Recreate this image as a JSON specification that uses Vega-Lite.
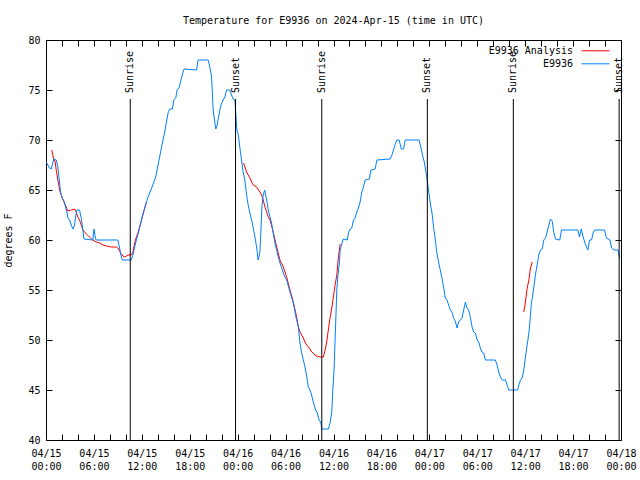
{
"$schema": "https://vega.github.io/schema/vega-lite/v6.json",
"width": 575, "height": 400,
"autosize": {"type": "none"},
"padding": {"left": 46, "top": 40, "right": 19, "bottom": 40},
"background": "white",
"title": {"text": "Temperature for E9936 on 2024-Apr-15 (time in UTC)", "offset": 9, "fontSize": 10, "font": "DejaVu Sans Mono", "fontWeight": "normal", "color": "black", "anchor": "middle"},
"config": {"view": {"stroke": "black", "strokeWidth": 1}, "font": "DejaVu Sans Mono",
  "axis": {"labelFont": "DejaVu Sans Mono", "labelFontSize": 10, "labelColor": "black", "tickColor": "black", "titleFont": "DejaVu Sans Mono", "titleFontSize": 10, "titleFontWeight": "normal", "titleColor": "black", "grid": false, "domain": false}},
"datasets": {
"obs": [
{"t":"2024-04-15T00:02:00Z","v":67.8},{"t":"2024-04-15T00:26:00Z","v":67.2},{"t":"2024-04-15T00:39:00Z","v":67.1},{"t":"2024-04-15T00:51:00Z","v":67.7},{"t":"2024-04-15T00:59:00Z","v":68.1},{"t":"2024-04-15T01:17:00Z","v":68.0},{"t":"2024-04-15T01:29:00Z","v":67.3},{"t":"2024-04-15T01:42:00Z","v":65.7},{"t":"2024-04-15T01:49:00Z","v":64.8},{"t":"2024-04-15T02:02:00Z","v":64.2},{"t":"2024-04-15T02:12:00Z","v":64.0},{"t":"2024-04-15T02:27:00Z","v":63.3},{"t":"2024-04-15T02:37:00Z","v":62.8},{"t":"2024-04-15T02:44:00Z","v":62.2},{"t":"2024-04-15T02:57:00Z","v":62.0},{"t":"2024-04-15T03:10:00Z","v":61.5},{"t":"2024-04-15T03:22:00Z","v":61.1},{"t":"2024-04-15T03:35:00Z","v":61.5},{"t":"2024-04-15T03:42:00Z","v":62.3},{"t":"2024-04-15T03:52:00Z","v":63.0},{"t":"2024-04-15T04:12:00Z","v":63.0},{"t":"2024-04-15T04:25:00Z","v":62.2},{"t":"2024-04-15T04:37:00Z","v":61.0},{"t":"2024-04-15T04:45:00Z","v":60.1},{"t":"2024-04-15T05:52:00Z","v":60.0},{"t":"2024-04-15T06:00:00Z","v":61.1},{"t":"2024-04-15T06:10:00Z","v":60.3},{"t":"2024-04-15T06:16:00Z","v":60.0},{"t":"2024-04-15T09:00:00Z","v":60.0},{"t":"2024-04-15T09:13:00Z","v":59.2},{"t":"2024-04-15T09:26:00Z","v":58.3},{"t":"2024-04-15T09:34:00Z","v":58.0},{"t":"2024-04-15T10:41:00Z","v":58.0},{"t":"2024-04-15T10:53:00Z","v":58.5},{"t":"2024-04-15T11:06:00Z","v":59.3},{"t":"2024-04-15T11:19:00Z","v":60.0},{"t":"2024-04-15T11:36:00Z","v":60.8},{"t":"2024-04-15T12:06:00Z","v":62.5},{"t":"2024-04-15T12:44:00Z","v":64.2},{"t":"2024-04-15T13:14:00Z","v":65.2},{"t":"2024-04-15T13:44:00Z","v":66.3},{"t":"2024-04-15T14:27:00Z","v":69.2},{"t":"2024-04-15T14:39:00Z","v":70.0},{"t":"2024-04-15T14:52:00Z","v":70.8},{"t":"2024-04-15T15:05:00Z","v":71.8},{"t":"2024-04-15T15:17:00Z","v":72.7},{"t":"2024-04-15T15:30:00Z","v":73.1},{"t":"2024-04-15T15:50:00Z","v":73.1},{"t":"2024-04-15T16:00:00Z","v":74.0},{"t":"2024-04-15T16:15:00Z","v":74.2},{"t":"2024-04-15T16:25:00Z","v":75.0},{"t":"2024-04-15T16:40:00Z","v":75.2},{"t":"2024-04-15T16:50:00Z","v":75.8},{"t":"2024-04-15T17:00:00Z","v":76.3},{"t":"2024-04-15T17:10:00Z","v":76.8},{"t":"2024-04-15T17:17:00Z","v":77.1},{"t":"2024-04-15T18:51:00Z","v":77.0},{"t":"2024-04-15T19:03:00Z","v":78.0},{"t":"2024-04-15T20:18:00Z","v":78.0},{"t":"2024-04-15T20:31:00Z","v":77.3},{"t":"2024-04-15T20:44:00Z","v":76.3},{"t":"2024-04-15T20:56:00Z","v":73.0},{"t":"2024-04-15T21:08:00Z","v":71.8},{"t":"2024-04-15T21:16:00Z","v":71.1},{"t":"2024-04-15T21:26:00Z","v":71.5},{"t":"2024-04-15T21:39:00Z","v":72.5},{"t":"2024-04-15T21:54:00Z","v":73.5},{"t":"2024-04-15T22:11:00Z","v":74.0},{"t":"2024-04-15T22:24:00Z","v":74.3},{"t":"2024-04-15T22:37:00Z","v":75.0},{"t":"2024-04-15T23:01:00Z","v":75.0},{"t":"2024-04-15T23:14:00Z","v":74.5},{"t":"2024-04-15T23:26:00Z","v":74.1},{"t":"2024-04-15T23:39:00Z","v":74.0},{"t":"2024-04-15T23:44:00Z","v":73.0},{"t":"2024-04-15T23:54:00Z","v":71.0},
{"t":"2024-04-16T00:05:00Z","v":70.5},{"t":"2024-04-16T00:16:00Z","v":69.3},{"t":"2024-04-16T00:29:00Z","v":68.0},{"t":"2024-04-16T00:41:00Z","v":66.8},{"t":"2024-04-16T00:54:00Z","v":66.0},{"t":"2024-04-16T01:07:00Z","v":64.5},{"t":"2024-04-16T01:19:00Z","v":63.5},{"t":"2024-04-16T01:32:00Z","v":62.7},{"t":"2024-04-16T01:45:00Z","v":62.0},{"t":"2024-04-16T01:57:00Z","v":61.2},{"t":"2024-04-16T02:10:00Z","v":60.3},{"t":"2024-04-16T02:22:00Z","v":59.3},{"t":"2024-04-16T02:34:00Z","v":58.0},{"t":"2024-04-16T02:47:00Z","v":58.8},{"t":"2024-04-16T02:55:00Z","v":61.0},{"t":"2024-04-16T03:02:00Z","v":63.3},{"t":"2024-04-16T03:12:00Z","v":64.5},{"t":"2024-04-16T03:23:00Z","v":65.0},{"t":"2024-04-16T03:38:00Z","v":64.0},{"t":"2024-04-16T03:50:00Z","v":63.0},{"t":"2024-04-16T04:03:00Z","v":62.3},{"t":"2024-04-16T04:15:00Z","v":61.7},{"t":"2024-04-16T04:27:00Z","v":60.7},{"t":"2024-04-16T04:40:00Z","v":59.7},{"t":"2024-04-16T04:53:00Z","v":59.0},{"t":"2024-04-16T05:05:00Z","v":58.3},{"t":"2024-04-16T05:18:00Z","v":57.7},{"t":"2024-04-16T05:31:00Z","v":57.2},{"t":"2024-04-16T05:43:00Z","v":56.7},{"t":"2024-04-16T05:55:00Z","v":56.3},{"t":"2024-04-16T06:08:00Z","v":56.0},{"t":"2024-04-16T06:33:00Z","v":54.8},{"t":"2024-04-16T06:58:00Z","v":53.7},{"t":"2024-04-16T07:18:00Z","v":52.3},{"t":"2024-04-16T07:36:00Z","v":51.3},{"t":"2024-04-16T07:48:00Z","v":49.7},{"t":"2024-04-16T08:01:00Z","v":48.7},{"t":"2024-04-16T08:13:00Z","v":48.0},{"t":"2024-04-16T08:26:00Z","v":47.3},{"t":"2024-04-16T08:39:00Z","v":46.3},{"t":"2024-04-16T08:51:00Z","v":45.3},{"t":"2024-04-16T09:09:00Z","v":44.8},{"t":"2024-04-16T09:21:00Z","v":44.2},{"t":"2024-04-16T09:34:00Z","v":43.5},{"t":"2024-04-16T09:46:00Z","v":43.0},{"t":"2024-04-16T09:59:00Z","v":42.7},{"t":"2024-04-16T10:11:00Z","v":42.0},{"t":"2024-04-16T10:24:00Z","v":41.8},{"t":"2024-04-16T10:32:00Z","v":41.1},{"t":"2024-04-16T11:21:00Z","v":41.1},{"t":"2024-04-16T11:34:00Z","v":41.7},{"t":"2024-04-16T11:47:00Z","v":42.8},{"t":"2024-04-16T11:55:00Z","v":45.0},{"t":"2024-04-16T12:04:00Z","v":47.0},{"t":"2024-04-16T12:12:00Z","v":50.0},{"t":"2024-04-16T12:19:00Z","v":52.7},{"t":"2024-04-16T12:25:00Z","v":55.0},{"t":"2024-04-16T12:32:00Z","v":56.3},{"t":"2024-04-16T12:44:00Z","v":57.7},{"t":"2024-04-16T12:50:00Z","v":59.0},{"t":"2024-04-16T13:02:00Z","v":59.6},{"t":"2024-04-16T13:14:00Z","v":60.1},{"t":"2024-04-16T13:44:00Z","v":60.0},{"t":"2024-04-16T13:52:00Z","v":60.7},{"t":"2024-04-16T14:05:00Z","v":61.1},{"t":"2024-04-16T14:17:00Z","v":61.2},{"t":"2024-04-16T14:30:00Z","v":62.0},{"t":"2024-04-16T14:42:00Z","v":62.2},{"t":"2024-04-16T14:55:00Z","v":62.8},{"t":"2024-04-16T15:05:00Z","v":63.1},{"t":"2024-04-16T15:20:00Z","v":63.8},{"t":"2024-04-16T15:33:00Z","v":64.8},{"t":"2024-04-16T15:45:00Z","v":65.3},{"t":"2024-04-16T15:58:00Z","v":66.0},{"t":"2024-04-16T16:30:00Z","v":66.1},{"t":"2024-04-16T16:41:00Z","v":67.0},{"t":"2024-04-16T17:13:00Z","v":67.1},{"t":"2024-04-16T17:26:00Z","v":68.0},{"t":"2024-04-16T19:06:00Z","v":68.1},{"t":"2024-04-16T19:19:00Z","v":68.5},{"t":"2024-04-16T19:31:00Z","v":69.0},{"t":"2024-04-16T19:44:00Z","v":69.6},{"t":"2024-04-16T19:56:00Z","v":70.0},{"t":"2024-04-16T20:14:00Z","v":70.0},{"t":"2024-04-16T20:29:00Z","v":69.1},{"t":"2024-04-16T20:46:00Z","v":69.1},{"t":"2024-04-16T20:59:00Z","v":70.0},{"t":"2024-04-16T22:44:00Z","v":70.0},{"t":"2024-04-16T22:57:00Z","v":69.2},{"t":"2024-04-16T23:12:00Z","v":68.3},{"t":"2024-04-16T23:22:00Z","v":67.8},{"t":"2024-04-16T23:32:00Z","v":67.0},{"t":"2024-04-16T23:42:00Z","v":66.2},{"t":"2024-04-16T23:54:00Z","v":65.0},
{"t":"2024-04-17T00:07:00Z","v":63.7},{"t":"2024-04-17T00:20:00Z","v":62.7},{"t":"2024-04-17T00:32:00Z","v":61.3},{"t":"2024-04-17T00:45:00Z","v":60.0},{"t":"2024-04-17T00:57:00Z","v":58.7},{"t":"2024-04-17T01:09:00Z","v":57.8},{"t":"2024-04-17T01:22:00Z","v":57.0},{"t":"2024-04-17T01:35:00Z","v":56.2},{"t":"2024-04-17T01:47:00Z","v":55.3},{"t":"2024-04-17T02:00:00Z","v":54.2},{"t":"2024-04-17T02:13:00Z","v":54.0},{"t":"2024-04-17T02:25:00Z","v":53.5},{"t":"2024-04-17T02:38:00Z","v":53.0},{"t":"2024-04-17T02:50:00Z","v":52.8},{"t":"2024-04-17T03:02:00Z","v":52.2},{"t":"2024-04-17T03:15:00Z","v":51.9},{"t":"2024-04-17T03:28:00Z","v":51.2},{"t":"2024-04-17T03:40:00Z","v":51.8},{"t":"2024-04-17T03:53:00Z","v":52.0},{"t":"2024-04-17T04:06:00Z","v":52.2},{"t":"2024-04-17T04:18:00Z","v":53.0},{"t":"2024-04-17T04:31:00Z","v":53.8},{"t":"2024-04-17T04:43:00Z","v":53.2},{"t":"2024-04-17T04:55:00Z","v":53.0},{"t":"2024-04-17T05:08:00Z","v":52.3},{"t":"2024-04-17T05:21:00Z","v":51.3},{"t":"2024-04-17T05:33:00Z","v":50.8},{"t":"2024-04-17T05:46:00Z","v":50.7},{"t":"2024-04-17T05:59:00Z","v":50.0},{"t":"2024-04-17T06:11:00Z","v":49.8},{"t":"2024-04-17T06:23:00Z","v":49.2},{"t":"2024-04-17T06:36:00Z","v":48.8},{"t":"2024-04-17T06:48:00Z","v":48.7},{"t":"2024-04-17T07:01:00Z","v":48.0},{"t":"2024-04-17T08:16:00Z","v":48.0},{"t":"2024-04-17T08:29:00Z","v":47.5},{"t":"2024-04-17T08:41:00Z","v":46.8},{"t":"2024-04-17T08:54:00Z","v":46.3},{"t":"2024-04-17T09:07:00Z","v":46.0},{"t":"2024-04-17T09:32:00Z","v":46.0},{"t":"2024-04-17T09:44:00Z","v":45.5},{"t":"2024-04-17T09:57:00Z","v":45.0},{"t":"2024-04-17T11:04:00Z","v":45.0},{"t":"2024-04-17T11:12:00Z","v":45.5},{"t":"2024-04-17T11:25:00Z","v":46.0},{"t":"2024-04-17T11:37:00Z","v":46.2},{"t":"2024-04-17T11:50:00Z","v":47.0},{"t":"2024-04-17T12:02:00Z","v":48.3},{"t":"2024-04-17T12:15:00Z","v":49.5},{"t":"2024-04-17T12:28:00Z","v":50.7},{"t":"2024-04-17T12:40:00Z","v":52.5},{"t":"2024-04-17T12:47:00Z","v":53.7},{"t":"2024-04-17T12:57:00Z","v":54.5},{"t":"2024-04-17T13:05:00Z","v":55.3},{"t":"2024-04-17T13:17:00Z","v":56.5},{"t":"2024-04-17T13:30:00Z","v":57.5},{"t":"2024-04-17T13:42:00Z","v":58.5},{"t":"2024-04-17T13:55:00Z","v":59.0},{"t":"2024-04-17T14:08:00Z","v":59.1},{"t":"2024-04-17T14:20:00Z","v":60.0},{"t":"2024-04-17T14:33:00Z","v":60.2},{"t":"2024-04-17T14:45:00Z","v":60.8},{"t":"2024-04-17T14:58:00Z","v":61.5},{"t":"2024-04-17T15:10:00Z","v":62.1},{"t":"2024-04-17T15:23:00Z","v":61.9},{"t":"2024-04-17T15:35:00Z","v":60.8},{"t":"2024-04-17T15:48:00Z","v":60.1},{"t":"2024-04-17T16:20:00Z","v":60.0},{"t":"2024-04-17T16:33:00Z","v":61.0},{"t":"2024-04-17T18:36:00Z","v":61.0},{"t":"2024-04-17T18:48:00Z","v":60.3},{"t":"2024-04-17T19:01:00Z","v":61.1},{"t":"2024-04-17T19:16:00Z","v":60.3},{"t":"2024-04-17T19:29:00Z","v":59.7},{"t":"2024-04-17T19:41:00Z","v":59.3},{"t":"2024-04-17T19:51:00Z","v":59.0},{"t":"2024-04-17T20:04:00Z","v":60.0},{"t":"2024-04-17T20:19:00Z","v":60.0},{"t":"2024-04-17T20:32:00Z","v":60.8},{"t":"2024-04-17T20:44:00Z","v":61.0},{"t":"2024-04-17T21:57:00Z","v":61.0},{"t":"2024-04-17T22:10:00Z","v":60.2},{"t":"2024-04-17T22:37:00Z","v":60.0},{"t":"2024-04-17T22:50:00Z","v":59.2},{"t":"2024-04-17T23:07:00Z","v":59.0},{"t":"2024-04-17T23:37:00Z","v":59.0},{"t":"2024-04-17T23:50:00Z","v":58.2}
],
"ana": [
{"seg":1,"t":"2024-04-15T00:44:00Z","v":69.0},{"seg":1,"t":"2024-04-15T00:56:00Z","v":68.2},{"seg":1,"t":"2024-04-15T01:09:00Z","v":67.8},{"seg":1,"t":"2024-04-15T01:17:00Z","v":67.0},{"seg":1,"t":"2024-04-15T01:29:00Z","v":66.0},{"seg":1,"t":"2024-04-15T01:42:00Z","v":65.0},{"seg":1,"t":"2024-04-15T01:49:00Z","v":64.7},{"seg":1,"t":"2024-04-15T02:02:00Z","v":64.2},{"seg":1,"t":"2024-04-15T02:19:00Z","v":63.7},{"seg":1,"t":"2024-04-15T02:32:00Z","v":63.3},{"seg":1,"t":"2024-04-15T02:44:00Z","v":62.9},{"seg":1,"t":"2024-04-15T03:10:00Z","v":63.0},{"seg":1,"t":"2024-04-15T03:35:00Z","v":63.1},{"seg":1,"t":"2024-04-15T03:47:00Z","v":62.8},{"seg":1,"t":"2024-04-15T03:59:00Z","v":62.3},{"seg":1,"t":"2024-04-15T04:12:00Z","v":62.0},{"seg":1,"t":"2024-04-15T04:25:00Z","v":61.5},{"seg":1,"t":"2024-04-15T04:37:00Z","v":61.0},{"seg":1,"t":"2024-04-15T04:50:00Z","v":60.8},{"seg":1,"t":"2024-04-15T05:03:00Z","v":60.6},{"seg":1,"t":"2024-04-15T05:27:00Z","v":60.3},{"seg":1,"t":"2024-04-15T05:52:00Z","v":60.0},{"seg":1,"t":"2024-04-15T06:18:00Z","v":59.8},{"seg":1,"t":"2024-04-15T06:43:00Z","v":59.7},{"seg":1,"t":"2024-04-15T07:08:00Z","v":59.5},{"seg":1,"t":"2024-04-15T07:33:00Z","v":59.4},{"seg":1,"t":"2024-04-15T08:11:00Z","v":59.3},{"seg":1,"t":"2024-04-15T08:48:00Z","v":59.3},{"seg":1,"t":"2024-04-15T09:00:00Z","v":59.2},{"seg":1,"t":"2024-04-15T09:21:00Z","v":58.7},{"seg":1,"t":"2024-04-15T09:38:00Z","v":58.4},{"seg":1,"t":"2024-04-15T09:51:00Z","v":58.3},{"seg":1,"t":"2024-04-15T10:16:00Z","v":58.5},{"seg":1,"t":"2024-04-15T10:41:00Z","v":58.5},{"seg":1,"t":"2024-04-15T10:53:00Z","v":58.8},{"seg":1,"t":"2024-04-15T11:06:00Z","v":59.7},{"seg":1,"t":"2024-04-15T11:19:00Z","v":60.3},{"seg":1,"t":"2024-04-15T11:31:00Z","v":60.7},{"seg":1,"t":"2024-04-15T11:39:00Z","v":61.1},{"seg":1,"t":"2024-04-15T12:06:00Z","v":62.4},{"seg":1,"t":"2024-04-15T12:34:00Z","v":63.8},
{"seg":2,"t":"2024-04-16T00:44:00Z","v":67.7},{"seg":2,"t":"2024-04-16T00:54:00Z","v":67.3},{"seg":2,"t":"2024-04-16T01:07:00Z","v":66.8},{"seg":2,"t":"2024-04-16T01:19:00Z","v":66.5},{"seg":2,"t":"2024-04-16T01:32:00Z","v":66.2},{"seg":2,"t":"2024-04-16T01:45:00Z","v":65.8},{"seg":2,"t":"2024-04-16T01:57:00Z","v":65.5},{"seg":2,"t":"2024-04-16T02:22:00Z","v":65.3},{"seg":2,"t":"2024-04-16T02:47:00Z","v":64.8},{"seg":2,"t":"2024-04-16T03:00:00Z","v":64.5},{"seg":2,"t":"2024-04-16T03:12:00Z","v":64.0},{"seg":2,"t":"2024-04-16T03:25:00Z","v":63.3},{"seg":2,"t":"2024-04-16T03:38:00Z","v":62.8},{"seg":2,"t":"2024-04-16T03:50:00Z","v":62.3},{"seg":2,"t":"2024-04-16T04:03:00Z","v":62.0},{"seg":2,"t":"2024-04-16T04:27:00Z","v":60.8},{"seg":2,"t":"2024-04-16T04:53:00Z","v":59.3},{"seg":2,"t":"2024-04-16T05:18:00Z","v":58.0},{"seg":2,"t":"2024-04-16T05:43:00Z","v":57.3},{"seg":2,"t":"2024-04-16T06:08:00Z","v":56.3},{"seg":2,"t":"2024-04-16T06:33:00Z","v":55.0},{"seg":2,"t":"2024-04-16T06:58:00Z","v":53.8},{"seg":2,"t":"2024-04-16T07:23:00Z","v":52.3},{"seg":2,"t":"2024-04-16T07:36:00Z","v":51.3},{"seg":2,"t":"2024-04-16T07:48:00Z","v":50.8},{"seg":2,"t":"2024-04-16T08:01:00Z","v":50.5},{"seg":2,"t":"2024-04-16T08:13:00Z","v":50.2},{"seg":2,"t":"2024-04-16T08:26:00Z","v":49.8},{"seg":2,"t":"2024-04-16T08:39:00Z","v":49.5},{"seg":2,"t":"2024-04-16T08:51:00Z","v":49.3},{"seg":2,"t":"2024-04-16T09:04:00Z","v":49.1},{"seg":2,"t":"2024-04-16T09:16:00Z","v":48.8},{"seg":2,"t":"2024-04-16T09:28:00Z","v":48.7},{"seg":2,"t":"2024-04-16T09:41:00Z","v":48.5},{"seg":2,"t":"2024-04-16T09:54:00Z","v":48.4},{"seg":2,"t":"2024-04-16T10:19:00Z","v":48.3},{"seg":2,"t":"2024-04-16T10:44:00Z","v":48.3},{"seg":2,"t":"2024-04-16T10:57:00Z","v":49.0},{"seg":2,"t":"2024-04-16T11:09:00Z","v":49.8},{"seg":2,"t":"2024-04-16T11:21:00Z","v":51.0},{"seg":2,"t":"2024-04-16T11:34:00Z","v":52.2},{"seg":2,"t":"2024-04-16T11:47:00Z","v":53.2},{"seg":2,"t":"2024-04-16T11:59:00Z","v":54.3},{"seg":2,"t":"2024-04-16T12:12:00Z","v":55.5},{"seg":2,"t":"2024-04-16T12:25:00Z","v":56.5},{"seg":2,"t":"2024-04-16T12:37:00Z","v":58.3},{"seg":2,"t":"2024-04-16T12:50:00Z","v":59.6},
{"seg":3,"t":"2024-04-17T11:50:00Z","v":52.8},{"seg":3,"t":"2024-04-17T12:02:00Z","v":53.8},{"seg":3,"t":"2024-04-17T12:15:00Z","v":55.2},{"seg":3,"t":"2024-04-17T12:28:00Z","v":56.0},{"seg":3,"t":"2024-04-17T12:40:00Z","v":57.2},{"seg":3,"t":"2024-04-17T12:53:00Z","v":57.8}
],
"sun": [
{"t":"2024-04-15T10:33:00Z","event":"Sunrise"},{"t":"2024-04-15T23:44:00Z","event":"Sunset"},
{"t":"2024-04-16T10:32:00Z","event":"Sunrise"},{"t":"2024-04-16T23:45:00Z","event":"Sunset"},
{"t":"2024-04-17T10:31:00Z","event":"Sunrise"},{"t":"2024-04-17T23:46:00Z","event":"Sunset"}
]
},
"layer": [
{
"data": {"name": "ana"},
"mark": {"type": "line", "strokeWidth": 1},
"encoding": {
 "x": {"field": "t", "type": "temporal", "scale": {"type": "utc", "domain": [{"year": 2024, "month": 4, "date": 15, "hours": 0, "utc": true}, {"year": 2024, "month": 4, "date": 18, "hours": 0, "utc": true}], "nice": false},
   "axis": {"orient": "bottom", "title": null, "values": [1713139200000,1713146400000,1713153600000,1713160800000,1713168000000,1713175200000,1713182400000,1713189600000,1713196800000,1713204000000,1713211200000,1713218400000,1713225600000,1713232800000,1713240000000,1713247200000,1713254400000,1713261600000,1713268800000,1713276000000,1713283200000,1713290400000,1713297600000,1713304800000,1713312000000,1713319200000,1713326400000,1713333600000,1713340800000,1713348000000,1713355200000,1713362400000,1713369600000,1713376800000,1713384000000,1713391200000,1713398400000],
     "tickSize": -6, "labelPadding": 14, "labelOverlap": false, "labelFlush": false, "labelBound": false, "labelBaseline": "top", "labelLineHeight": 13,
     "labelExpr": "utchours(datum.value) % 6 == 0 ? [utcFormat(datum.value, '%m/%d'), utcFormat(datum.value, '%H:%M')] : ''"}},
 "y": {"field": "v", "type": "quantitative", "scale": {"domain": [40, 80], "nice": false, "zero": false},
   "axis": {"orient": "left", "values": [40, 45, 50, 55, 60, 65, 70, 75, 80], "tickSize": -6, "labelPadding": 12, "title": "degrees F", "titlePadding": 14}},
 "color": {"datum": "E9936 Analysis", "type": "nominal", "scale": {"domain": ["E9936 Analysis", "E9936"], "range": ["#ff0000", "#0080ff"]},
   "legend": {"title": null, "orient": "none", "legendX": 542, "legendY": 3.3, "symbolType": "M-2,0H2", "symbolSize": 196, "symbolStrokeWidth": 1, "symbolFillColor": "transparent", "labelAlign": "right", "labelOffset": -30, "labelFont": "DejaVu Sans Mono", "labelFontSize": 10, "labelColor": "black", "rowPadding": 0, "padding": 0}},
 "detail": {"field": "seg", "type": "nominal"}
}
},
{
"data": {"name": "obs"},
"mark": {"type": "line", "strokeWidth": 1},
"encoding": {
 "x": {"field": "t", "type": "temporal", "axis": null},
 "y": {"field": "v", "type": "quantitative", "axis": null},
 "color": {"datum": "E9936", "type": "nominal"}
}
},
{
"data": {"name": "sun"},
"mark": {"type": "rule", "color": "black", "strokeWidth": 1},
"encoding": {
 "x": {"field": "t", "type": "temporal", "axis": {"orient": "top", "title": null, "labels": false, "tickSize": -6, "values": [1713139200000,1713146400000,1713153600000,1713160800000,1713168000000,1713175200000,1713182400000,1713189600000,1713196800000,1713204000000,1713211200000,1713218400000,1713225600000,1713232800000,1713240000000,1713247200000,1713254400000,1713261600000,1713268800000,1713276000000,1713283200000,1713290400000,1713297600000,1713304800000,1713312000000,1713319200000,1713326400000,1713333600000,1713340800000,1713348000000,1713355200000,1713362400000,1713369600000,1713376800000,1713384000000,1713391200000,1713398400000]}},
 "y": {"datum": 74.1, "type": "quantitative", "axis": {"orient": "right", "title": null, "labels": false, "values": [40, 45, 50, 55, 60, 65, 70, 75, 80], "tickSize": -6}},
 "y2": {"datum": 40}
}
},
{
"data": {"name": "sun"},
"mark": {"type": "text", "angle": 270, "align": "left", "baseline": "middle", "font": "DejaVu Sans Mono", "fontSize": 10, "color": "black"},
"encoding": {
 "x": {"field": "t", "type": "temporal", "axis": null},
 "y": {"datum": 74.7, "type": "quantitative", "axis": null},
 "text": {"field": "event"}
}
}
],
"resolve": {"axis": {"x": "independent", "y": "independent"}}
}
